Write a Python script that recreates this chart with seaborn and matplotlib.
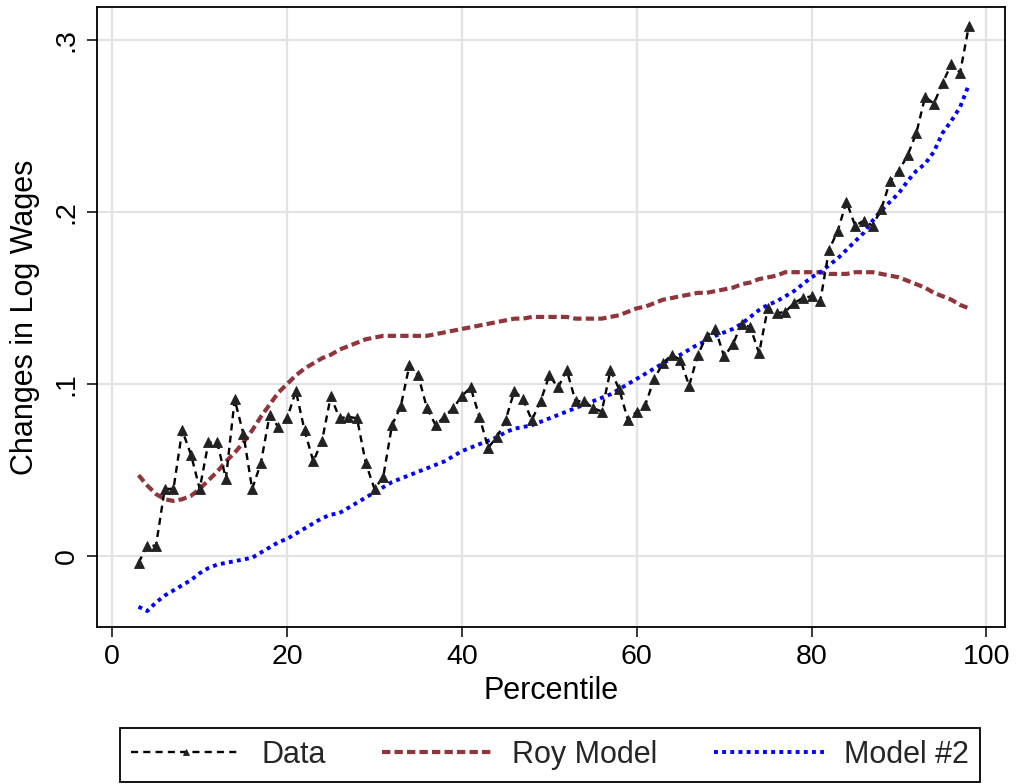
import numpy as np
import pandas as pd
import matplotlib
matplotlib.use("Agg")
import matplotlib.pyplot as plt
import seaborn as sns

# ---------------- data ----------------
percentile = list(range(3, 99))

data_vals = [
    -0.004, 0.006, 0.006, 0.039, 0.039, 0.073, 0.059, 0.039, 0.066, 0.066,
    0.045, 0.091, 0.071, 0.039, 0.054, 0.082, 0.075, 0.080, 0.096, 0.073,
    0.055, 0.067, 0.093, 0.080, 0.081, 0.080, 0.054, 0.039, 0.046, 0.076,
    0.087, 0.111, 0.105, 0.086, 0.076, 0.081, 0.086, 0.093, 0.098, 0.081,
    0.063, 0.069, 0.079, 0.096, 0.091, 0.079, 0.090, 0.105, 0.098, 0.108,
    0.090, 0.090, 0.086, 0.084, 0.108, 0.097, 0.079, 0.084, 0.088, 0.103,
    0.112, 0.117, 0.114, 0.099, 0.117, 0.128, 0.132, 0.116, 0.123, 0.135,
    0.133, 0.118, 0.144, 0.141, 0.142, 0.147, 0.150, 0.151, 0.148, 0.178,
    0.189, 0.206, 0.192, 0.195, 0.192, 0.202, 0.218, 0.224, 0.233, 0.246,
    0.267, 0.263, 0.275, 0.286, 0.281, 0.308,
]

roy_vals = [
    0.047, 0.041, 0.036, 0.033, 0.032, 0.033, 0.035, 0.039, 0.044, 0.049,
    0.055, 0.060, 0.066, 0.073, 0.081, 0.088, 0.095, 0.100, 0.105, 0.109,
    0.112, 0.115, 0.117, 0.120, 0.122, 0.124, 0.126, 0.127, 0.128, 0.128,
    0.128, 0.128, 0.128, 0.128, 0.129, 0.130, 0.131, 0.132, 0.133, 0.134,
    0.135, 0.136, 0.137, 0.138, 0.138, 0.139, 0.139, 0.139, 0.139, 0.139,
    0.138, 0.138, 0.138, 0.138, 0.139, 0.140, 0.142, 0.144, 0.145, 0.147,
    0.149, 0.150, 0.151, 0.152, 0.153, 0.153, 0.154, 0.155, 0.156, 0.158,
    0.159, 0.161, 0.162, 0.163, 0.165, 0.165, 0.165, 0.165, 0.165, 0.164,
    0.164, 0.164, 0.165, 0.165, 0.165, 0.164, 0.163, 0.162, 0.160, 0.158,
    0.156, 0.153, 0.151, 0.149, 0.146, 0.144,
]

model2_vals = [
    -0.0295, -0.032, -0.027, -0.023, -0.020, -0.017, -0.014, -0.010, -0.007, -0.005,
    -0.004, -0.003, -0.002, -0.001, 0.002, 0.005, 0.008, 0.010, 0.013, 0.016,
    0.019, 0.022, 0.024, 0.025, 0.028, 0.031, 0.034, 0.037, 0.040, 0.043,
    0.045, 0.047, 0.049, 0.051, 0.053, 0.055, 0.058, 0.061, 0.063, 0.065,
    0.067, 0.069, 0.072, 0.074, 0.075, 0.076, 0.078, 0.080, 0.082, 0.084,
    0.086, 0.088, 0.090, 0.092, 0.094, 0.097, 0.100, 0.103, 0.106, 0.109,
    0.112, 0.115, 0.117, 0.120, 0.123, 0.125, 0.128, 0.130, 0.132, 0.135,
    0.139, 0.143, 0.146, 0.148, 0.151, 0.154, 0.158, 0.162, 0.165, 0.169,
    0.173, 0.178, 0.183, 0.188, 0.195, 0.201, 0.206, 0.211, 0.218, 0.224,
    0.228, 0.235, 0.246, 0.253, 0.261, 0.274,
]

series_labels = ["Data", "Roy Model", "Model #2"]
x_ticks = [0, 20, 40, 60, 80, 100]
y_ticks = [0.0, 0.1, 0.2, 0.3]
y_tick_labels = ["0", ".1", ".2", ".3"]

# ---------------- style ----------------
sns.set_theme(style="white")
plt.rcParams["font.family"] = ["Liberation Sans", "DejaVu Sans"]

fig = plt.figure(figsize=(10.17, 7.84), dpi=100)
ax = fig.add_axes([97 / 1017, 1 - 627 / 784, (1005 - 97) / 1017, (627 - 7) / 784])

df = pd.DataFrame({"pct": percentile, "data": data_vals,
                   "roy": roy_vals, "m2": model2_vals})

sns.lineplot(data=df, x="pct", y="data", ax=ax, color="black", lw=1.7,
             marker="^", markersize=7.5, markerfacecolor="#222222",
             markeredgecolor="#222222", markeredgewidth=0.6,
             label=series_labels[0], legend=False, zorder=4)
sns.lineplot(data=df, x="pct", y="roy", ax=ax, color="#90353B", lw=3.0,
             label=series_labels[1], legend=False, zorder=3)
sns.lineplot(data=df, x="pct", y="m2", ax=ax, color="#0000FF", lw=2.8,
             label=series_labels[2], legend=False, zorder=3)

lines = ax.get_lines()
lines[0].set_dashes((3.0, 2.2))
lines[1].set_dashes((2.0, 1.0))
lines[2].set_dashes((1.0, 1.1))

ax.set_xlim((97 - 112.3) / 8.74, (1005 - 112.3) / 8.74)
ax.set_ylim((556 - 627) / 1720, (556 - 7) / 1720)

ax.set_xticks(x_ticks)
ax.set_xticklabels([str(t) for t in x_ticks])
ax.set_yticks(y_ticks)
ax.set_yticklabels(y_tick_labels, rotation=90, va="center")

ax.grid(True, color="#e3e3e3", lw=1.6, zorder=0)
ax.set_axisbelow(True)
for s in ax.spines.values():
    s.set_color("black")
    s.set_linewidth(1.3)
    s.set_visible(True)

ax.tick_params(axis="both", which="major", direction="out", length=7.5,
               width=1.1, color="black", labelsize=20.5, labelcolor="black",
               pad=5, bottom=True, left=True)

ax.set_xlabel("Percentile", fontsize=22, color="black", labelpad=4)
ax.set_ylabel("Changes in Log Wages", fontsize=22, color="black", labelpad=10)

handles = ax.get_lines()[:3]
leg = fig.legend(handles, series_labels, loc="center",
                 bbox_to_anchor=(550 / 1017, 1 - 755 / 784), ncol=3,
                 fontsize=22, frameon=True, fancybox=False, shadow=False,
                 handlelength=3.6, handletextpad=0.65, columnspacing=1.85,
                 borderpad=0.38, numpoints=1, markerscale=0.6)
leg.get_frame().set_edgecolor("black")
leg.get_frame().set_linewidth(1.3)
leg.get_frame().set_facecolor("white")
leg.get_frame().set_alpha(1)

fig.savefig("out.png", dpi=100, facecolor="white")
